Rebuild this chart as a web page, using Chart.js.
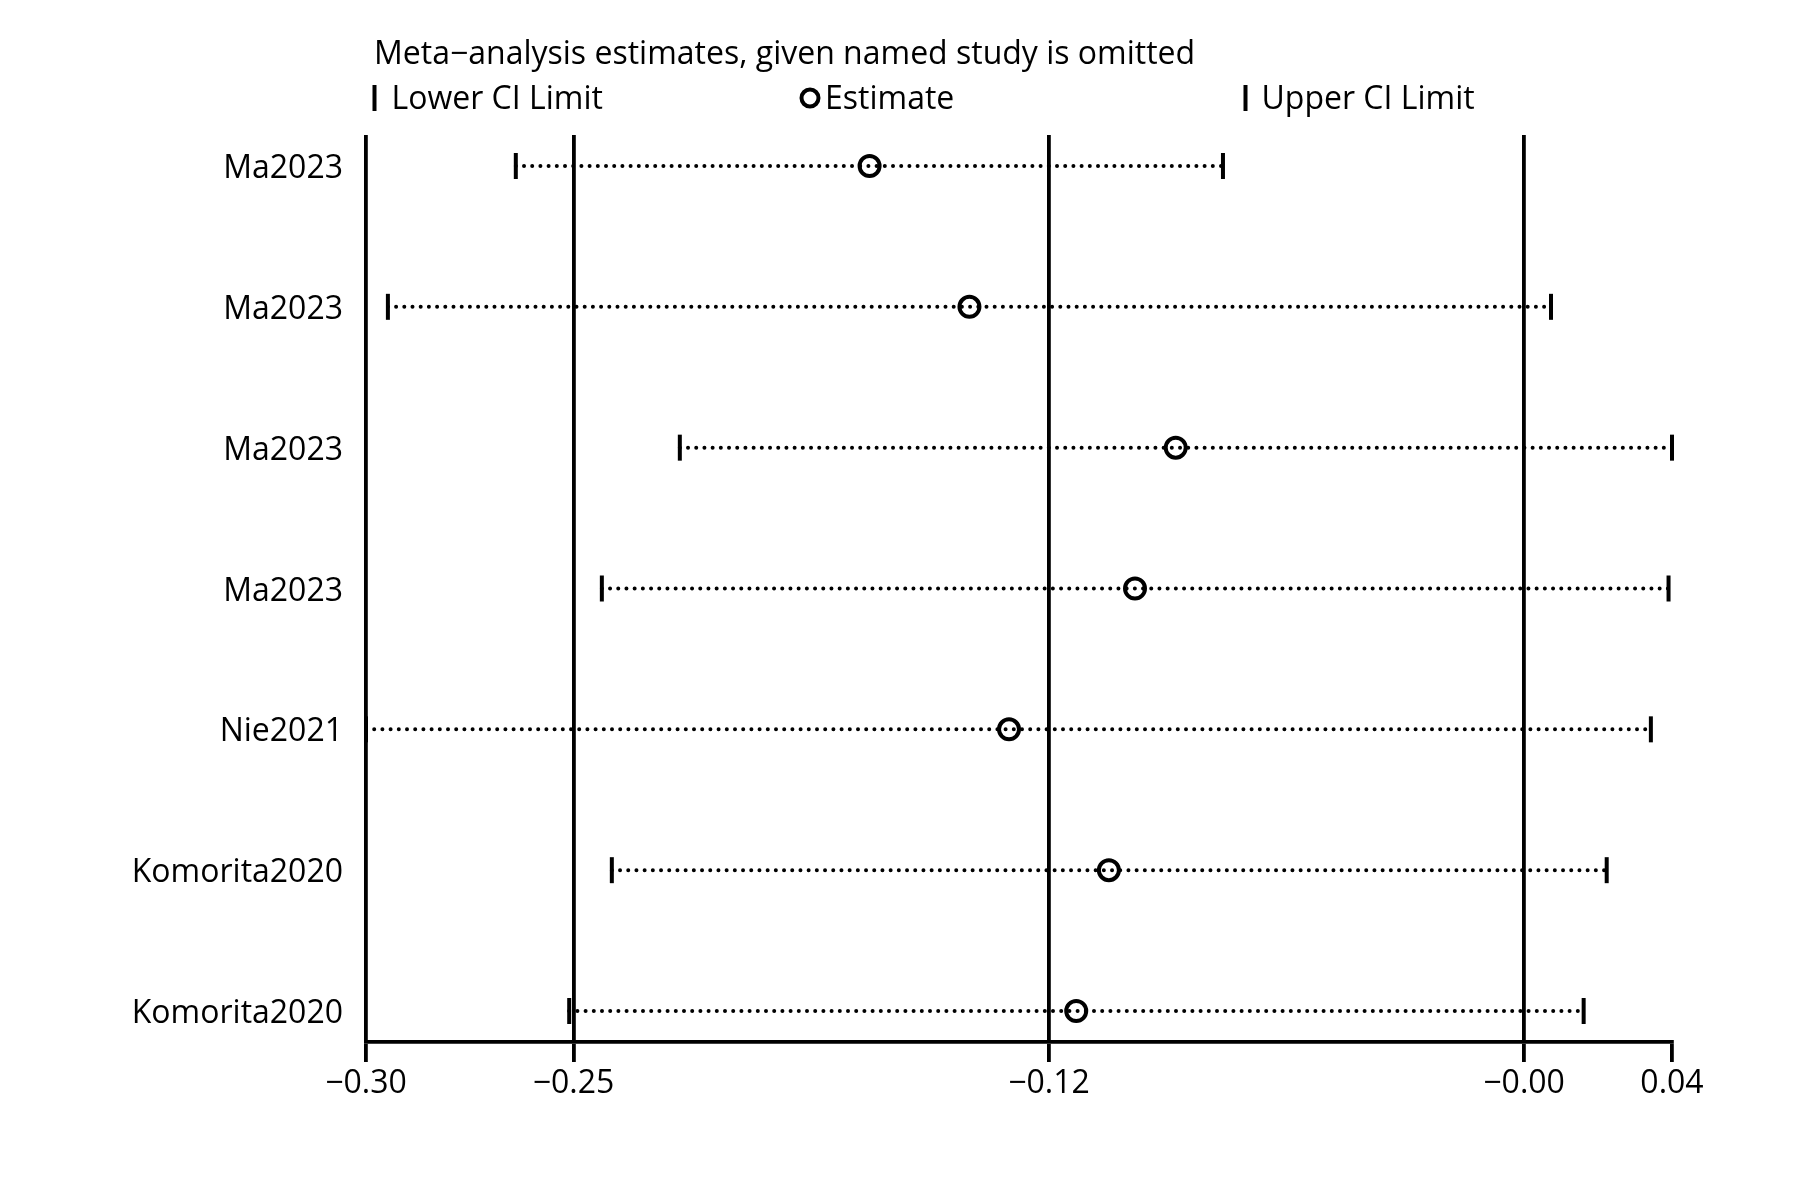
<!DOCTYPE html>
<html>
<head>
<meta charset="utf-8">
<script src="https://cdn.jsdelivr.net/npm/chart.js@4.4.1/dist/chart.umd.min.js"></script>
<style>
  html, body { margin: 0; padding: 0; background: #fff; }
  #wrap { width: 1800px; height: 1200px; }
</style>
</head>
<body>
<div id="wrap"><canvas id="c" width="1800" height="1200"></canvas></div>
<script>
// ---- data ----
const studies = ['Ma2023', 'Ma2023', 'Ma2023', 'Ma2023', 'Nie2021', 'Komorita2020', 'Komorita2020'];
const lowerCI  = [-0.2630, -0.2963, -0.2203, -0.2406, -0.3020, -0.2380, -0.2491];
const estimate = [-0.1709, -0.1449, -0.0912, -0.1018, -0.1346, -0.1086, -0.1171];
const upperCI  = [-0.0789,  0.0065,  0.0380,  0.0371,  0.0325,  0.0210,  0.0150];
// overall meta-analysis: lower CI, estimate, upper CI (vertical reference lines)
const overallCI = [-0.2480, -0.1242, -0.0005];
const xTickLabels = ['\u22120.30', '\u22120.25', '\u22120.12', '\u22120.00', '0.04'];
const titleText = 'Meta\u2212analysis estimates, given named study is omitted';
const legendLabels = ['Lower CI Limit', 'Estimate', 'Upper CI Limit'];

const xMin = Math.min(...lowerCI);
const xMax = Math.max(...upperCI);
const xTickValues = [xMin, ...overallCI, xMax];
const rows = studies.map((_, i) => i + 1);

const FONT = 'Open Sans';
const FS = 32;
Chart.defaults.font.family = FONT;
Chart.defaults.font.size = FS;
Chart.defaults.color = '#000';

// dotted CI lines, one per study
const ciLineSets = studies.map((s, i) => ({
  type: 'scatter',
  showLine: true,
  data: [{ x: lowerCI[i], y: rows[i] }, { x: upperCI[i], y: rows[i] }],
  borderColor: '#000',
  borderWidth: 4,
  borderDash: [0, 8.2],
  borderCapStyle: 'round',
  pointRadius: 0,
  clip: false,
  order: 3
}));

const lowerSet = {
  type: 'scatter',
  data: rows.map((r, i) => ({ x: lowerCI[i], y: r })),
  pointStyle: 'line',
  rotation: 90,
  pointRadius: 13,
  pointBorderWidth: 4,
  pointBorderColor: '#000',
  pointBackgroundColor: '#000',
  clip: false,
  order: 1
};
const upperSet = {
  type: 'scatter',
  data: rows.map((r, i) => ({ x: upperCI[i], y: r })),
  pointStyle: 'line',
  rotation: 90,
  pointRadius: 13,
  pointBorderWidth: 4,
  pointBorderColor: '#000',
  pointBackgroundColor: '#000',
  clip: false,
  order: 1
};
const estSet = {
  type: 'scatter',
  data: rows.map((r, i) => ({ x: estimate[i], y: r })),
  pointStyle: 'circle',
  pointRadius: 10,
  pointBorderWidth: 4,
  pointBorderColor: '#000',
  pointBackgroundColor: 'rgba(0,0,0,0)',
  clip: false,
  order: 0
};

// title + three-column legend (Stata style)
const headerPlugin = {
  id: 'header',
  afterDraw(chart) {
    const ctx = chart.ctx;
    ctx.save();
    ctx.fillStyle = '#000';
    ctx.strokeStyle = '#000';
    ctx.font = FS + 'px "' + FONT + '"';
    ctx.textAlign = 'left';
    ctx.textBaseline = 'alphabetic';
    ctx.fillText(titleText, 374, 64);
    const base = 109;
    const cols = [374.5, 810, 1245.5];
    // lower CI marker
    ctx.fillRect(cols[0] - 2, base - 24, 4, 26);
    ctx.fillText(legendLabels[0], cols[0] + 17, base);
    // estimate marker
    ctx.lineWidth = 4;
    ctx.beginPath();
    ctx.arc(cols[1], base - 11, 8.5, 0, Math.PI * 2);
    ctx.stroke();
    ctx.fillText(legendLabels[1], cols[1] + 15, base);
    // upper CI marker
    ctx.fillRect(cols[2] - 2, base - 24, 4, 26);
    ctx.fillText(legendLabels[2], cols[2] + 16, base);
    ctx.restore();
  }
};

new Chart(document.getElementById('c'), {
  type: 'scatter',
  data: { datasets: [...ciLineSets, lowerSet, upperSet, estSet] },
  options: {
    responsive: false,
    devicePixelRatio: 1,
    animation: false,
    events: [],
    layout: { padding: { top: 135, left: 0, right: 128, bottom: 58 } },
    plugins: { legend: { display: false }, title: { display: false }, tooltip: { enabled: false } },
    scales: {
      x: {
        type: 'linear',
        min: xMin,
        max: xMax,
        afterBuildTicks: (scale) => { scale.ticks = xTickValues.map(v => ({ value: v })); },
        afterFit: (scale) => { scale.height = 100; },
        ticks: {
          autoSkip: false,
          maxRotation: 0,
          padding: 3,
          color: '#000',
          font: { size: FS },
          callback: (v, i) => xTickLabels[i]
        },
        grid: {
          display: true,
          drawOnChartArea: true,
          drawTicks: true,
          tickLength: 20,
          lineWidth: 3.8,
          tickWidth: 3.8,
          color: (ctx) => (ctx.tick && ctx.tick.value === xMax) ? 'rgba(0,0,0,0)' : '#000',
          tickColor: '#000'
        },
        border: { display: true, color: '#000', width: 3.8 }
      },
      y: {
        type: 'linear',
        reverse: true,
        min: 0.78,
        max: 7.22,
        afterBuildTicks: (scale) => { scale.ticks = rows.map(v => ({ value: v })); },
        afterFit: (scale) => { scale.width = 366; },
        ticks: {
          autoSkip: false,
          padding: 23,
          labelOffset: 3,
          color: '#000',
          font: { size: FS },
          callback: (v) => studies[Math.round(v) - 1] || ''
        },
        grid: { display: false, drawTicks: false },
        border: { display: false }
      }
    }
  },
  plugins: [headerPlugin]
});
</script>
</body>
</html>
